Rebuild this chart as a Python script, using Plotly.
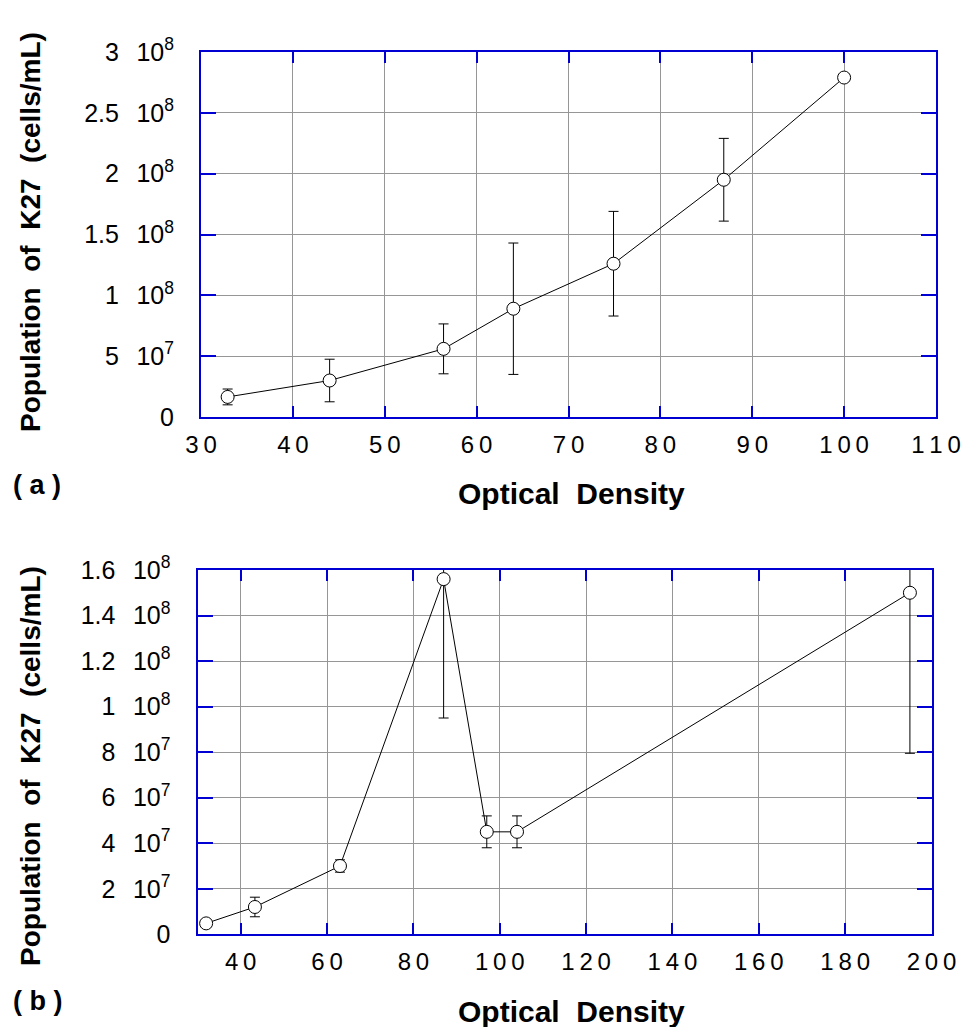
import plotly.graph_objects as go

# ---- data: panel (a)
od_a = [32.9, 44.0, 56.4, 64.0, 74.9, 86.9, 100.0]
pop_a = [1.65e7, 3.0e7, 5.6e7, 8.9e7, 1.26e8, 1.95e8, 2.79e8]
err_a = [0.65e7, 1.75e7, 2.05e7, 5.4e7, 4.3e7, 3.4e7, 0]

# ---- data: panel (b)
od_b = [32.0, 43.3, 63.0, 87.0, 97.0, 104.0, 195.0]
pop_b = [0.48e7, 1.2e7, 3.0e7, 1.56e8, 4.5e7, 4.5e7, 1.5e8]
err_b = [0, 0.43e7, 0.27e7, 6.1e7, 0.7e7, 0.7e7, 7.05e7]

# ---- ticks
SP = "\u2002\u2009"
xt_a = [30, 40, 50, 60, 70, 80, 90, 100, 110]
xl_a = ["3\u20090", "4\u20090", "5\u20090", "6\u20090", "7\u20090", "8\u20090", "9\u20090",
        "1\u20090\u20090", "1\u20091\u20090"]
yt_a = [0, 5e7, 1e8, 1.5e8, 2e8, 2.5e8, 3e8]
yl_a = ["0", "5" + SP + "10<sup>7</sup>", "1" + SP + "10<sup>8</sup>", "1.5" + SP + "10<sup>8</sup>",
        "2" + SP + "10<sup>8</sup>", "2.5" + SP + "10<sup>8</sup>", "3" + SP + "10<sup>8</sup>"]

xt_b = [40, 60, 80, 100, 120, 140, 160, 180, 200]
xl_b = ["4\u20090", "6\u20090", "8\u20090", "1\u20090\u20090", "1\u20092\u20090", "1\u20094\u20090",
        "1\u20096\u20090", "1\u20098\u20090", "2\u20090\u20090"]
yt_b = [0, 2e7, 4e7, 6e7, 8e7, 1e8, 1.2e8, 1.4e8, 1.6e8]
yl_b = ["0", "2" + SP + "10<sup>7</sup>", "4" + SP + "10<sup>7</sup>", "6" + SP + "10<sup>7</sup>",
        "8" + SP + "10<sup>7</sup>", "1" + SP + "10<sup>8</sup>", "1.2" + SP + "10<sup>8</sup>",
        "1.4" + SP + "10<sup>8</sup>", "1.6" + SP + "10<sup>8</sup>"]

W, H = 961, 1027
FONT = "Liberation Sans, Arial, sans-serif"
BLUE = "rgb(0,0,210)"
GRID = "rgb(150,150,150)"

def trace(x, y, e, xa, ya):
    return go.Scatter(
        x=x, y=y, xaxis=xa, yaxis=ya, mode="lines+markers",
        line=dict(color="black", width=1),
        marker=dict(symbol="circle", size=13, color="white",
                    line=dict(color="black", width=1)),
        error_y=dict(type="data", array=e, visible=True, color="black",
                     thickness=1, width=5),
        showlegend=False, cliponaxis=True,
    )

fig = go.Figure()
fig.add_trace(trace(od_a, pop_a, err_a, "x", "y"))
fig.add_trace(trace(od_b, pop_b, err_b, "x2", "y2"))

def xaxis(dom, anchor, rng, tv, tt):
    return dict(domain=dom, anchor=anchor, range=rng, tickmode="array", tickvals=tv, ticktext=tt,
                showline=True, linecolor=BLUE, linewidth=2, mirror="ticks",
                ticks="inside", ticklen=11, tickwidth=2, tickcolor=BLUE,
                showgrid=True, gridcolor=GRID, gridwidth=1, zeroline=False,
                tickfont=dict(family=FONT, size=24, color="black"),
                ticklabelstandoff=5, automargin=False)

def yaxis(dom, anchor, rng, tv, tt):
    return dict(domain=dom, anchor=anchor, range=rng, tickmode="array", tickvals=tv, ticktext=tt,
                showline=True, linecolor=BLUE, linewidth=2, mirror="ticks",
                ticks="inside", ticklen=15, tickwidth=2, tickcolor=BLUE,
                showgrid=True, gridcolor=GRID, gridwidth=1, zeroline=False,
                tickfont=dict(family=FONT, size=25, color="black"),
                ticklabelstandoff=20, automargin=False)

fig.update_layout(
    width=W, height=H, margin=dict(l=0, r=0, t=0, b=0),
    paper_bgcolor="white", plot_bgcolor="white",
    xaxis=xaxis([201 / W, 936 / W], "y", [30, 110], xt_a, xl_a),
    yaxis=yaxis([1 - 417 / H, 1 - 52 / H], "x", [0, 3e8], yt_a, yl_a),
    xaxis2=xaxis([197.5 / W, 931.5 / W], "y2", [30, 200], xt_b, xl_b),
    yaxis2=yaxis([1 - 934.3 / H, 1 - 570 / H], "x2", [0, 1.6e8], yt_b, yl_b),
)

def tf(size):
    return dict(family=FONT, size=size, color="black", weight="bold")

YT = "Population\u00a0\u00a0of\u00a0\u00a0K27\u00a0\u00a0(cells/mL)"
ann = [
    dict(text=YT, x=30 / W, y=1 - 232 / H, textangle=-90, font=tf(28)),
    dict(text=YT, x=30 / W, y=1 - 766 / H, textangle=-90, font=tf(28)),
    dict(text="Optical\u00a0\u00a0Density", x=571 / W, y=1 - 493 / H, font=tf(30)),
    dict(text="Optical\u00a0\u00a0Density", x=571 / W, y=1 - 1011 / H, font=tf(30)),
    dict(text="(\u00a0a\u00a0)", x=37 / W, y=1 - 485 / H, font=tf(27)),
    dict(text="(\u00a0b\u00a0)", x=37 / W, y=1 - 1001 / H, font=tf(27)),
]
for a in ann:
    fig.add_annotation(xref="paper", yref="paper", xanchor="center", yanchor="middle",
                       showarrow=False, **a)

fig.write_html("out.html")
